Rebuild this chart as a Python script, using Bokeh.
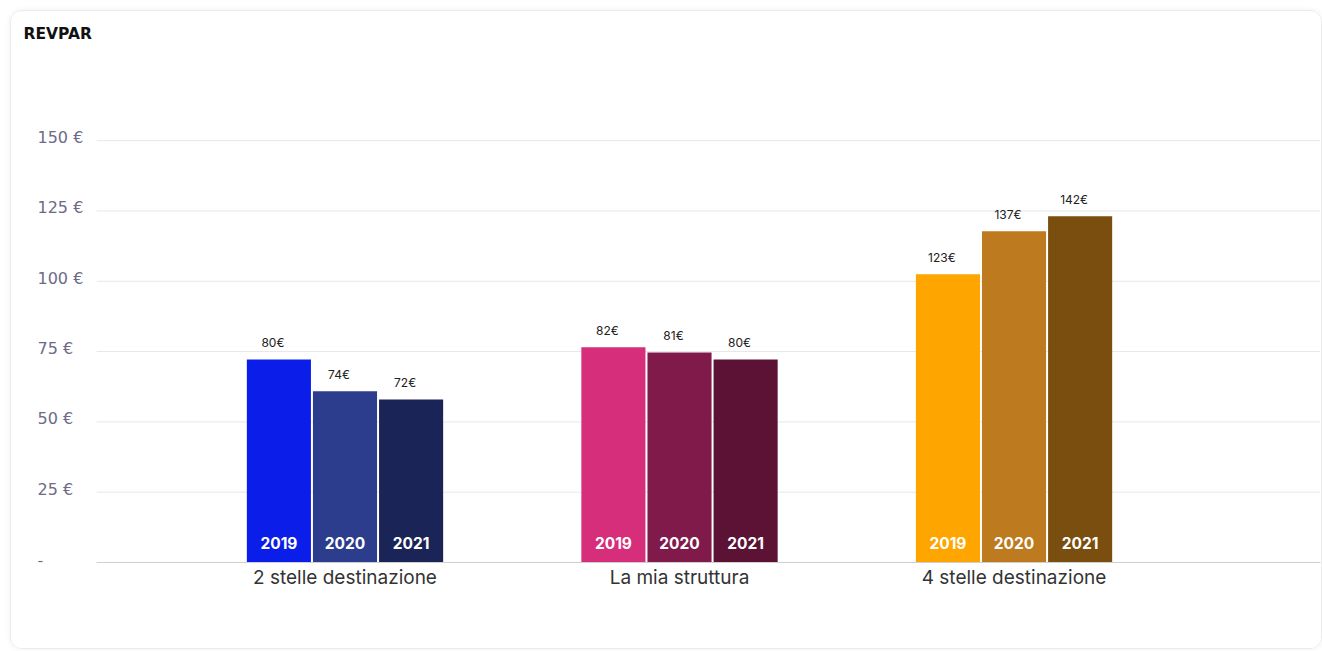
from bokeh.plotting import figure
from bokeh.models import ColumnDataSource, FixedTicker, Range1d
from bokeh.transform import dodge
from bokeh.core.properties import value
from bokeh.embed import file_html
from bokeh.resources import INLINE

chart_title = "REVPAR"
categories = ["2 stelle destinazione", "La mia struttura", "4 stelle destinazione"]
years = ["2019", "2020", "2021"]
# bar heights as drawn (axis units)
bars_2019 = [72.2, 76.5, 102.5]
bars_2020 = [60.9, 74.7, 117.8]
bars_2021 = [58.0, 72.2, 123.1]
# value labels printed above bars
labels_2019 = ["80€", "82€", "123€"]
labels_2020 = ["74€", "81€", "137€"]
labels_2021 = ["72€", "80€", "142€"]
y_ticks = [0, 25, 50, 75, 100, 125, 150]
y_tick_labels = ["-", "25 €", "50 €", "75 €", "100 €", "125 €", "150 €"]
colors_2019 = ["#0b1de8", "#d62e7a", "#ffa500"]
colors_2020 = ["#2c3d8e", "#7f1a4a", "#bd7a1e"]
colors_2021 = ["#1a2456", "#5c1234", "#7a4e0e"]

series = [
    (years[0], bars_2019, labels_2019, colors_2019),
    (years[1], bars_2020, labels_2020, colors_2020),
    (years[2], bars_2021, labels_2021, colors_2021),
]

FONT = "Inter"
X_START, X_END = -0.97005, 2.91617
AXIS_START = -0.74251
Y_END = 194.5

p = figure(width=1312, height=639, output_backend="svg", toolbar_location=None,
           x_range=Range1d(X_START, X_END), y_range=Range1d(0, Y_END),
           min_border_left=9, min_border_right=3, min_border_top=4, min_border_bottom=88)
p.styles = {"border": "1px solid #ebebeb", "border-radius": "12px", "overflow": "hidden",
            "box-shadow": "0 0 6px rgba(0,0,0,0.06)", "margin-left": "10px", "margin-top": "10px"}
p.outline_line_color = None
p.background_fill_color = "white"
p.border_fill_color = "white"

# horizontal grid lines (start at the plotting area's left edge)
p.xgrid.grid_line_color = None
p.ygrid.grid_line_color = None
gsrc = ColumnDataSource(dict(y=y_ticks[1:], label=y_tick_labels[1:]))
p.segment(x0=AXIS_START, x1=X_END, y0="y", y1="y", source=gsrc,
          line_color="#e7e7e7", line_width=1)

step = 0.1976
bw = 0.1916
for i, (yr, vals, labs, cols) in enumerate(series):
    off = (i - 1) * step
    src = ColumnDataSource(dict(x=list(range(len(categories))), top=vals, label=labs,
                                color=cols, year=[yr] * len(categories)))
    p.vbar(x=dodge("x", off), top="top", bottom=0, width=bw, fill_color="color",
           line_color=None, source=src)
    p.text(x=dodge("x", off), y="top", text="label", source=src, text_align="center",
           text_baseline="bottom", y_offset=-9, x_offset=-6, text_font=value(FONT),
           text_font_size="12px", text_color="#222222")
    p.text(x=dodge("x", off), y=0, text="year", source=src, text_align="center",
           text_baseline="middle", y_offset=-20, text_font=value(FONT),
           text_font_size="15.5px", text_font_style="bold", text_color="white")

# x axis
p.xaxis.bounds = (AXIS_START, X_END)
p.xaxis.ticker = FixedTicker(ticks=list(range(len(categories))))
p.xaxis.major_label_overrides = {i: c for i, c in enumerate(categories)}
p.xaxis.axis_line_color = "#cfcfcf"
p.xaxis.major_tick_line_color = None
p.xaxis.minor_tick_line_color = None
p.xaxis.major_label_text_font = FONT
p.xaxis.major_label_text_font_size = "19px"
p.xaxis.major_label_text_color = "#333333"
p.xaxis.major_label_standoff = -3
p.yaxis.visible = False

# y tick labels, left aligned
ysrc = ColumnDataSource(dict(y=y_ticks, label=y_tick_labels))
p.text(x=X_START, y="y", text="label", source=ysrc, x_offset=17, y_offset=-3,
       text_align="left", text_baseline="middle", text_font=value("DejaVu Sans"),
       text_font_size="16px", text_color="#6e6a88")

# title
p.text(x=[X_START], y=[Y_END], text=[chart_title], x_offset=3, y_offset=18,
       text_align="left", text_baseline="middle", text_font=value("DejaVu Sans"),
       text_font_size="15.5px", text_font_style="bold", text_color="#111111")

open("out.html", "w").write(file_html(p, INLINE))
